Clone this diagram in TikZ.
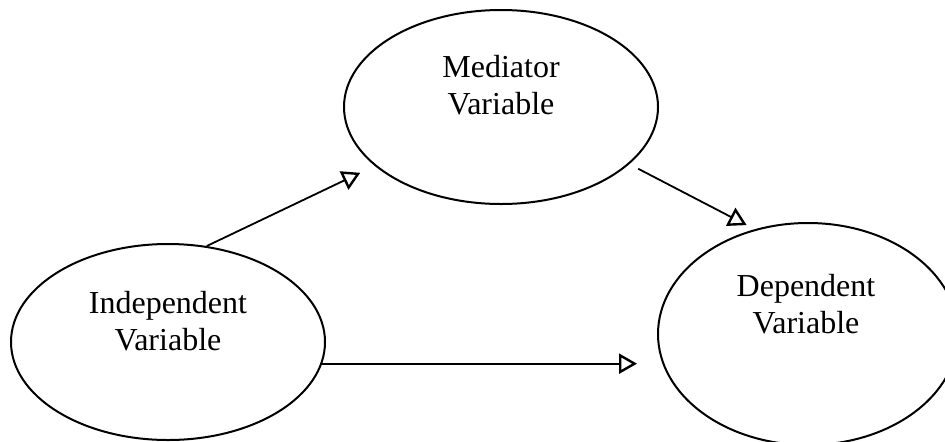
\documentclass[tikz,border=0pt]{standalone}
\usepackage{fontspec}
\setmainfont{Liberation Serif}
\usepackage{tikz}
\usetikzlibrary{shapes.geometric}
\usetikzlibrary{arrows.meta}
\usetikzlibrary{calc}
\tikzset{
    % Hollow triangle heads, as in the scanned figure
    >={Triangle[open, length=9pt, width=10pt, line width=1.2pt]},
%
    % One oval per variable of the model
    var oval/.style={
        draw, ellipse, line width=1pt, inner sep=0},
%
    % Two lines of text sitting in the upper half of an oval
    var text/.style={
        align=center, font=\fontsize{16}{18.5}\selectfont},
%
    % Plain connector line
    path line/.style={line width=0.9pt}}

\begin{document}
\begin{tikzpicture}

\useasboundingbox (0,0) rectangle (472.5pt,220.5pt);

% The mediator, top centre
\path[xshift=250.5pt, yshift=167pt]
    node[var oval, minimum width=157pt, minimum height=97pt,
        label={[name=mediator text, var text, yshift=11pt]center:Mediator\\Variable}]
        (mediator) {};

% The independent variable, bottom left
\path[xshift=84pt, yshift=49.5pt]
    node[var oval, minimum width=157pt, minimum height=98pt,
        label={[name=independent text, var text, yshift=10.5pt]center:Independent\\Variable}]
        (independent) {};

% The dependent variable, bottom right (runs off the page edge)
\path[xshift=404pt, yshift=53.5pt]
    node[var oval, minimum width=150pt, minimum height=111pt,
        label={[name=dependent text, var text, yshift=15pt, xshift=-1pt]center:Dependent\\Variable}]
        (dependent) {};

% Paths through the mediator
\draw[path line, ->, shorten >=8pt] (independent.68) -- (mediator.205);
\draw[path line, ->, shorten <=5pt, shorten >=4.5pt] (mediator.336) -- (dependent.117);

% Direct path
\draw[path line, ->, shorten >=10pt]
    (independent.352) -- (independent.352 -| dependent.west);

\end{tikzpicture}
\end{document}
